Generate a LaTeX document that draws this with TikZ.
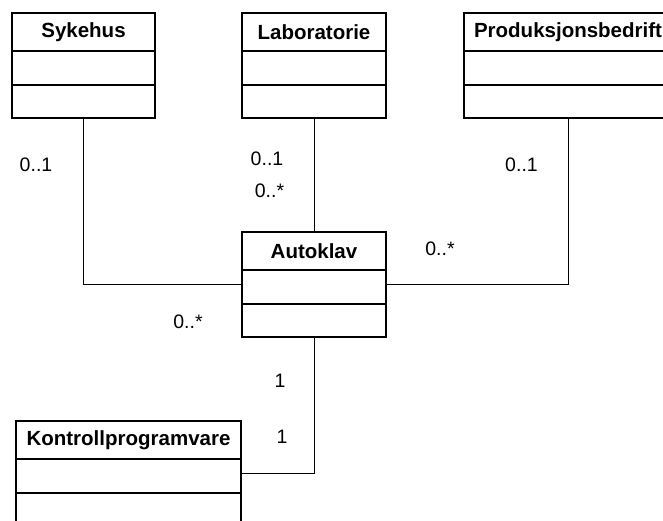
\documentclass[tikz,border=0pt]{standalone}
\usepackage{fontspec}
\setmainfont{Liberation Sans}
\usetikzlibrary{calc}
\begin{document}
\begin{tikzpicture}[x=1pt,y=-1pt,
  classbox/.style={draw,line width=1.8pt,rectangle,inner sep=0pt,outer sep=0pt},
  divider/.style={line width=1.8pt},
  title/.style={inner sep=0pt,font=\bfseries\fontsize{20.5}{24}\selectfont},
  assoc/.style={line width=1pt},
  mult/.style={anchor=base,inner sep=0pt,font=\fontsize{19.5}{23}\selectfont}]
\useasboundingbox (0,0) rectangle (663,521);
\clip (0,0) rectangle (663,521);

% class boxes (outer frame)
\node[classbox,minimum width=143,minimum height=105] (syk)  at (83.5,65.5)  {};
\node[classbox,minimum width=144,minimum height=105] (lab)  at (314,65.5)   {};
\node[classbox,minimum width=208,minimum height=105] (prod) at (568,65.5)   {};
\node[classbox,minimum width=144,minimum height=105] (auto) at (314,284.5)  {};
\node[classbox,minimum width=225,minimum height=105] (kon)  at (128.5,473.5) {};

% compartment dividers
\foreach \c in {syk,lab,prod,auto,kon}{
  \draw[divider] ([yshift=-38pt]\c.north west) -- ([yshift=-38pt]\c.north east);
  \draw[divider] ([yshift=-72pt]\c.north west) -- ([yshift=-72pt]\c.north east);
}

% class names
\node[title] (sykT)  at ([yshift=-19pt]syk.north)  {Sykehus};
\node[title] (labT)  at ([yshift=-19pt]lab.north)  {Laboratorie};
\node[title] (prodT) at ([yshift=-19pt]prod.north) {Produksjonsbedrift};
\node[title] (autoT) at ([yshift=-19pt]auto.north) {Autoklav};
\node[title] (konT)  at ([yshift=-19pt]kon.north)  {Kontrollprogramvare};

% associations
\draw[assoc] (syk.south) |- (auto.west);
\draw[assoc] (lab.south) -- (auto.north);
\draw[assoc] (prod.south) |- (auto.east);
\draw[assoc] (kon.east) -| (auto.south);

% multiplicities
\node[mult] (m1) at (36,172)    {0..1};
\node[mult] (m2) at (267,166)   {0..1};
\node[mult] (m3) at (269.5,198) {0..*};
\node[mult] (m4) at (521.5,172) {0..1};
\node[mult] (m5) at (440,255)   {0..*};
\node[mult] (m6) at (188,328)   {0..*};
\node[mult] (m7) at (280,387)   {1};
\node[mult] (m8) at (282,443)   {1};
\end{tikzpicture}
\end{document}
